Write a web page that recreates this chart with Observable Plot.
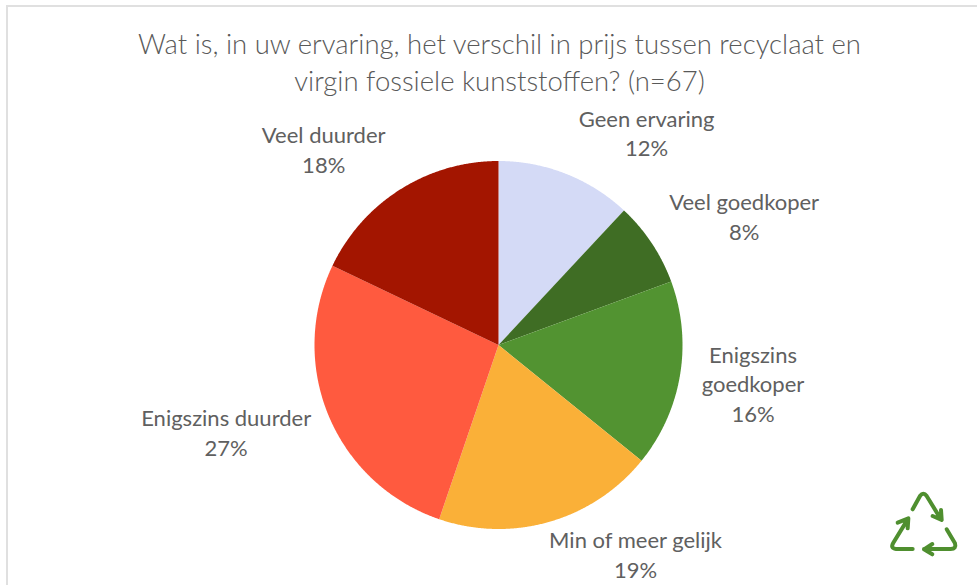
<!DOCTYPE html>
<html>
<head>
<meta charset="utf-8">
<script src="https://cdn.jsdelivr.net/npm/d3@7"></script>
<script src="https://cdn.jsdelivr.net/npm/@observablehq/plot@0.6"></script>
<style>
html,body{margin:0;padding:0;background:#fff;}
#frame{position:relative;width:977px;height:585px;overflow:hidden;background:#fff;}
#border{position:absolute;left:6px;top:5px;width:977px;height:600px;border:2px solid #e0e0e0;box-sizing:border-box;}
#title{position:absolute;left:0;top:25px;width:999px;text-align:center;font-family:Lato,sans-serif;font-weight:300;font-size:27.5px;line-height:37px;color:#595959;}
#chart{position:absolute;left:0;top:100px;}
#icon{position:absolute;left:860px;top:470px;width:117px;height:115px;}
</style>
</head>
<body>
<div id="frame">
  <div id="border"></div>
  <div id="title">Wat is, in uw ervaring, het verschil in prijs tussen recyclaat en<br>virgin fossiele kunststoffen? (n=67)</div>
  <div id="chart"></div>
  <svg id="icon" viewBox="0 0 351 345" fill="none" stroke="#4f8f2f" stroke-width="12" stroke-linecap="round" stroke-linejoin="round">
    <path d="M158 118 L180 78 Q190 64 200 78 L243 148 M218 138 L245 150 L243 120"/>
    <path d="M158 237 L108 237 Q90 235 100 218 L143 148 M113 158 L145 145 L143 175"/>
    <path d="M260 178 L285 220 Q290 237 272 237 L192 237 M217 222 L192 238 L217 253"/>
  </svg>
</div>
<script>
const categories = ["Geen ervaring","Veel goedkoper","Enigszins goedkoper","Min of meer gelijk","Enigszins duurder","Veel duurder"];
const labelNames = ["Geen ervaring","Veel goedkoper","Enigszins\ngoedkoper","Min of meer gelijk","Enigszins duurder","Veel duurder"];
const counts = [8,5,11,13,18,12];
const percentLabels = ["12%","8%","16%","19%","27%","18%"];
const colors = ["#d4daf6","#3f6d24","#529331","#fab038","#ff5a3f","#a31500"];

// Label placement, in pie radii from the centre
const labelX = [0.805,1.335,1.383,0.745,-1.480,-0.950];
const labelY = [1.157,0.703,-0.207,-1.134,-0.471,1.067];

const arcs = d3.pie().sort(null).value(d => d)(counts);
const slicePoints = arcs.flatMap((a, i) => {
  const n = Math.max(2, Math.ceil((a.endAngle - a.startAngle) / 0.005));
  const rim = d3.range(n + 1).map(k => {
    const t = a.startAngle + (a.endAngle - a.startAngle) * k / n;
    return {category: categories[i], x: Math.sin(t), y: Math.cos(t)};
  });
  return [{category: categories[i], x: 0, y: 0}, ...rim, {category: categories[i], x: 0, y: 0}];
});
const labels = categories.map((c, i) => ({
  category: c, x: labelX[i], y: labelY[i], text: labelNames[i] + "\n" + percentLabels[i]
}));

const cx = 498, cy = 244.5, r = 184;
const plot = Plot.plot({
  width: 977, height: 485,
  margin: 0,
  x: {domain: [-1, 1], range: [cx - r, cx + r], axis: null},
  y: {domain: [-1, 1], range: [cy + r, cy - r], axis: null},
  color: {domain: categories, range: colors},
  style: {background: "transparent", overflow: "visible"},
  marks: [
    Plot.line(slicePoints, {x: "x", y: "y", z: "category", fill: "category", stroke: "none", curve: "linear"}),
    Plot.text(labels, {x: "x", y: "y", text: "text", fill: "#606060", fontSize: 22, lineHeight: 1.33, fontFamily: "Lato, sans-serif", fontWeight: 400, textAnchor: "middle", lineAnchor: "middle"})
  ]
});
document.getElementById("chart").appendChild(plot);
</script>
</body>
</html>
